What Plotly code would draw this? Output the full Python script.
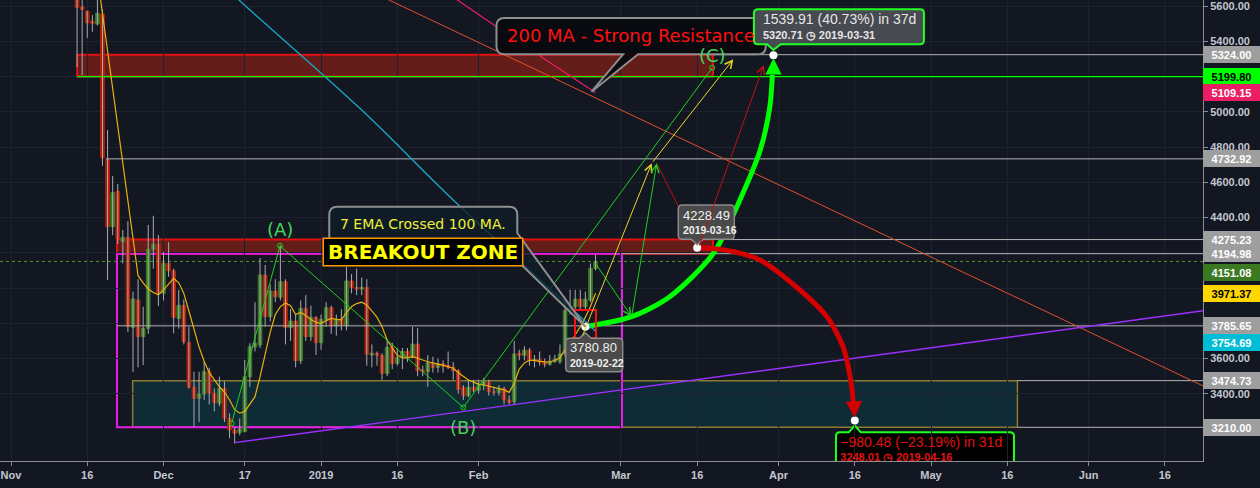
import plotly.graph_objects as go
import pandas as pd

# ---------------- candles (daily) ----------------
dates = pd.date_range("2018-11-14", "2019-02-24", freq="D").strftime("%Y-%m-%d").tolist()

opens = [6290, 5596, 5572, 5514, 5498, 5555, 4730, 4348, 4549, 4263, 4288, 3777, 3932, 3724, 3772, 4220, 4248,
         3970, 4140, 4098, 3828, 3902, 3692, 3437, 3375, 3399, 3525, 3403, 3346, 3431, 3261, 3195, 3180, 3185, 3497,
         3667, 3677, 4074, 3837, 3983, 3948, 4036, 3775, 3813, 3588, 3885, 3724, 3834,
         3690, 3823, 3889, 3786, 3823, 3786, 4040, 4004, 3994, 4004, 3620, 3630, 3617, 3516, 3664, 3573, 3607, 3640,
         3607, 3682, 3535, 3525, 3576, 3550, 3570, 3560, 3550, 3531, 3437, 3388, 3437,
         3420, 3450, 3469, 3412, 3408, 3431, 3365, 3355, 3630, 3618, 3648, 3588, 3596, 3580, 3567, 3585, 3582, 3626,
         3872, 3894, 3937, 3894, 3932, 4112]
highs = [6340, 5680, 5572, 5549, 5660, 5580, 4897, 4636, 4590, 4330, 4380, 3980, 4050, 3894, 4358, 4410, 4301,
         4206, 4260, 4110, 3990, 3935, 3780, 3525, 3525, 3582, 3548, 3431, 3497, 3470, 3289, 3210, 3260, 3592, 3687,
         3920, 4170, 4131, 4020, 4050, 4244, 4050, 3880, 3850, 3930, 3960, 3900, 3840,
         3850, 3920, 3900, 3850, 3880, 4120, 4080, 4110, 4060, 4050, 3680, 3640, 3630, 3710, 3690, 3660, 3660, 3660,
         3780, 3773, 3560, 3620, 3610, 3600, 3590, 3640, 3580, 3540, 3450, 3480, 3480,
         3480, 3490, 3480, 3440, 3450, 3440, 3390, 3700, 3650, 3670, 3660, 3620, 3640, 3600, 3620, 3620, 3680, 3930,
         3990, 3990, 3990, 3980, 4140, 4188]
lows = [5253, 5208, 5419, 5454, 5490, 4694, 4046, 4300, 4250, 4140, 3750, 3525, 3550, 3563, 3740, 4110, 3898,
        3930, 4064, 3743, 3770, 3680, 3430, 3213, 3240, 3365, 3340, 3300, 3330, 3240, 3148, 3119, 3165, 3185, 3440,
        3640, 3660, 3780, 3810, 3920, 3930, 3680, 3700, 3550, 3570, 3700, 3700, 3620,
        3650, 3780, 3740, 3730, 3760, 3760, 3970, 3960, 3960, 3560, 3550, 3560, 3480, 3500, 3540, 3560, 3540, 3580,
        3600, 3500, 3500, 3440, 3520, 3520, 3520, 3540, 3480, 3400, 3365, 3380, 3410,
        3400, 3420, 3390, 3390, 3390, 3340, 3340, 3340, 3590, 3590, 3560, 3550, 3560, 3550, 3560, 3575, 3570, 3610,
        3850, 3860, 3880, 3870, 3920, 4100]
closes = [5593, 5581, 5505, 5502, 5559, 4738, 4348, 4541, 4277, 4288, 3781, 3938, 3724, 3772, 4220, 4248, 3970,
          4140, 4098, 3834, 3902, 3696, 3437, 3375, 3399, 3525, 3403, 3350, 3431, 3261, 3195, 3176, 3200, 3497, 3667,
          3687, 4074, 3837, 3983, 3950, 4036, 3775, 3813, 3588, 3885, 3724, 3834, 3690,
          3823, 3889, 3786, 3823, 3790, 4040, 4004, 3994, 4004, 3624, 3630, 3617, 3516, 3664, 3573, 3607, 3640, 3607,
          3682, 3531, 3525, 3576, 3550, 3570, 3556, 3550, 3531, 3425, 3388, 3437, 3420,
          3450, 3469, 3412, 3408, 3431, 3365, 3350, 3626, 3618, 3648, 3588, 3596, 3580, 3567, 3585, 3596, 3626, 3872,
          3894, 3937, 3894, 3937, 4112, 4151]

# ---------------- indicators ----------------
ema7_dates = dates[4:]
ema7 = [5770, 5555, 5350, 5140, 4930, 4715, 4505, 4290, 4070, 4030, 3995, 3975, 3962,
        3990, 4025, 4055, 4030, 3970, 3870, 3760, 3665, 3585, 3520, 3480, 3440, 3410, 3365, 3310, 3290, 3300, 3340,
        3384, 3497, 3620, 3750, 3850, 3895, 3915, 3900, 3850, 3862, 3845, 3822, 3805,
        3800, 3815, 3828, 3822, 3819, 3860, 3895, 3912, 3920, 3904, 3870, 3835, 3780, 3705, 3660, 3620, 3605, 3602,
        3612, 3600, 3592, 3582, 3573, 3568, 3563, 3555, 3545, 3520, 3497, 3478, 3466,
        3455, 3450, 3444, 3438, 3430, 3422, 3408, 3460, 3540, 3575, 3590, 3590, 3584, 3581, 3579, 3590, 3605, 3650,
        3686, 3735, 3781, 3835, 3895, 3971]
ma100_dates = ["2018-12-11", "2018-12-16", "2019-01-09", "2019-01-27", "2019-02-20", "2019-02-24"]
ma100 = [5765, 5630, 5010, 4500, 3865, 3755]
ma200_dates = ["2019-01-25", "2019-02-08", "2019-02-24"]
ma200 = [5690, 5415, 5109]

# ---------------- drawings ----------------
trend_down_dates = ["2019-01-10", "2019-06-24"]
trend_down = [5694, 3438]
trend_up_dates = ["2018-12-15", "2019-06-24"]
trend_up = [3123, 3873]

wave_dates = ["2018-12-14 10:00", "2018-12-23 22:00", "2019-01-29 00:00", "2019-03-18 23:00"]
wave = [3233, 4240, 3323, 5250]
wave_labels = ["", "(A)", "(B)", "(C)"]
wave_label_dy = [0, 16, -20, 12]

green_zig_dates = ["2019-02-24 00:00", "2019-03-03 02:24", "2019-03-08 00:45"]
green_zig = [4140, 3837, 4708]
yellow_zig_dates = ["2019-02-21 08:00", "2019-03-07 01:12", "2019-03-23 02:24"]
yellow_zig = [3722, 4708, 5298]
red_zig_dates = ["2019-03-08 00:45", "2019-03-16 08:00", "2019-03-29 02:24"]
red_zig = [4708, 4233, 5265]

bull_dates = ["2019-02-22 00:00", "2019-03-03 02:24", "2019-03-10 14:24", "2019-03-19 04:48",
              "2019-03-24 09:36", "2019-03-28 09:36", "2019-03-30 07:12", "2019-03-30 19:00"]
bull = [3780.8, 3837.5, 3951, 4197, 4500, 4783, 5029, 5209]
bear_dates = ["2019-03-16 00:00", "2019-03-18 12:00", "2019-03-23 09:36", "2019-03-28 08:24",
              "2019-04-05 04:48", "2019-04-10 12:00", "2019-04-13 16:48", "2019-04-15 04:48", "2019-04-15 18:00"]
bear = [4228.49, 4226, 4205, 4159, 3989, 3838, 3667, 3478, 3342]

pt_dates = ["2019-02-22", "2019-03-16", "2019-03-31", "2019-04-16"]
pt_prices = [3780.80, 4228.49, 5320.71, 3248.01]

ray_levels = [5324.00, 4732.92, 4275.23, 4194.98, 3785.65, 3474.73, 3210.00]
ray_starts = ["2019-03-19 02:24", "2018-11-19 17:00", "2019-03-19 02:24", "2019-03-01 04:48",
              "2018-11-21 20:24", "2019-05-18 00:00", "2019-05-18 00:00"]
green_level = 5199.80
last_price = 4151.08

price_labels = [5324.00, 5199.80, 5109.15, 4732.92, 4275.23, 4194.98, 4151.08, 3971.37, 3785.65, 3754.69, 3474.73, 3210.00]
label_bg = ["#9e9e9e", "#00ff00", "#e91e63", "#9e9e9e", "#9e9e9e", "#9e9e9e", "#3b7a22", "#ffd600",
            "#9e9e9e", "#00bcd4", "#9e9e9e", "#9e9e9e"]
label_fg = ["#ffffff", "#000000", "#ffffff", "#ffffff", "#ffffff", "#ffffff", "#ffffff", "#000000",
            "#ffffff", "#ffffff", "#ffffff", "#ffffff"]
label_shift = [0, 0, 0, 0, 0, 0, -11, 0, 0, -11, 0, 0]

x_tickvals = ["2018-11-01", "2018-11-16", "2018-12-01", "2018-12-17", "2019-01-01", "2019-01-16", "2019-02-01",
              "2019-03-01", "2019-03-16", "2019-04-01", "2019-04-16", "2019-05-01", "2019-05-16", "2019-06-01",
              "2019-06-16"]
x_ticktext = ["Nov", "16", "Dec", "17", "2019", "16", "Feb", "Mar", "16", "Apr", "16", "May", "16", "Jun", "16"]
y_tickvals = [3400, 3600, 3800, 4000, 4200, 4400, 4600, 4800, 5000, 5200, 5400, 5600]
y_ticktext = ["3400.00", "3600.00", "", "", "", "4400.00", "4600.00", "4800.00", "5000.00", "", "5400.00", "5600.00"]

# ---------------- layout constants ----------------
W, H = 1260, 488
ML, MR, MT, MB = 0, 57, 0, 27
X0, X1 = pd.Timestamp("2018-10-29 20:04"), pd.Timestamp("2019-06-23 12:14")
Y0, Y1 = 3018.8, 5634.3
PW, PH = W - ML - MR, H - MT - MB
DAY_PX = PW / ((X1 - X0).total_seconds() / 86400)
PRICE_PX = PH / (Y1 - Y0)

BG = "#131722"
GRID = "#1e2230"
AXIS = "#8a8d96"
GREEN = "#3b7a22"
RED = "#b32109"
FONT = "Liberation Sans, Arial, sans-serif"
DJ = "DejaVu Sans, sans-serif"


def shift_date(d, px):
    return (pd.Timestamp(d) + pd.Timedelta(days=px / DAY_PX)).strftime("%Y-%m-%d %H:%M:%S")


def shift_price(p, px_up):
    return p + px_up / PRICE_PX


def rpath(l, r, b, t, rad, notch=None):
    """rounded rect in pixels relative to anchor (y up); optional notch (side, xl, xr, tipx, tipy)"""
    p = f"M{l + rad},{b} "
    if notch and notch[0] == "bottom":
        p += f"L{notch[1]},{b} L{notch[3]},{notch[4]} L{notch[2]},{b} "
    p += f"L{r - rad},{b} Q{r},{b} {r},{b + rad} L{r},{t - rad} Q{r},{t} {r - rad},{t} "
    if notch and notch[0] == "top":
        p += f"L{notch[2]},{t} L{notch[3]},{notch[4]} L{notch[1]},{t} "
    p += f"L{l + rad},{t} Q{l},{t} {l},{t - rad} L{l},{b + rad} Q{l},{b} {l + rad},{b} Z"
    return p


fig = go.Figure()

# ---------------- zones (below) ----------------
zone_fill = "rgba(170,35,20,0.55)"
fig.add_shape(type="rect", xref="x", yref="y", x0="2018-11-14", x1="2019-03-19 02:24", y0=5199.8, y1=5324.0,
              fillcolor=zone_fill, line=dict(color="#e01010", width=2), layer="below")
fig.add_shape(type="rect", xref="x", yref="y", x0="2018-11-21 20:24", x1="2019-03-19 02:24", y0=4194.98, y1=4275.23,
              fillcolor=zone_fill, line=dict(color="#e01010", width=2), layer="below")
fig.add_shape(type="rect", xref="x", yref="y", x0="2018-11-24 22:30", x1="2019-05-18", y0=3210.0, y1=3474.73,
              fillcolor="rgba(0,100,112,0.26)", line=dict(color="#8c7a30", width=1.5), layer="below")
# bottom measurement box (clipped by plot area)
a_d, a_p = pt_dates[3], pt_prices[3]
fig.add_shape(type="path", xref="x", yref="y", xsizemode="pixel", ysizemode="pixel", xanchor=a_d, yanchor=a_p,
              path=rpath(-18.8, 159.2, -70, -11.7, 4, ("top", -6, 6, 0, -5)),
              fillcolor="#000000", line=dict(color="#1dff1d", width=2), layer="below")

# ---------------- horizontal rays ----------------
for lvl, st in zip(ray_levels, ray_starts):
    fig.add_trace(go.Scatter(x=[st, "2019-07-05"], y=[lvl, lvl], mode="lines",
                             line=dict(color="#b4b4b4", width=1), hoverinfo="skip"))
fig.add_trace(go.Scatter(x=["2018-11-14", "2019-07-05"], y=[green_level, green_level], mode="lines",
                         line=dict(color="#00ff00", width=1.2), hoverinfo="skip"))
fig.add_trace(go.Scatter(x=[X0, X1], y=[last_price, last_price], mode="lines",
                         line=dict(color="#4c9a2a", width=1, dash="dot"), hoverinfo="skip"))

# range box (magenta)
fig.add_shape(type="rect", xref="x", yref="y", x0="2018-11-21 20:24", x1="2019-03-01 04:48", y0=3210.0, y1=4194.98,
              fillcolor="rgba(0,0,0,0)", line=dict(color="#e81ee8", width=2), layer="below")

# ---------------- candles ----------------
wx, wy = [], []
for d, h, l in zip(dates, highs, lows):
    wx += [d, d, None]
    wy += [l, h, None]
fig.add_trace(go.Scatter(x=wx, y=wy, mode="lines", line=dict(color="#a9abb0", width=1), hoverinfo="skip"))
body_base = [min(o, c) for o, c in zip(opens, closes)]
body_h = [abs(c - o) for o, c in zip(opens, closes)]
body_col = [GREEN if c >= o else RED for o, c in zip(opens, closes)]
fig.add_trace(go.Bar(x=dates, y=body_h, base=body_base, width=0.72 * 86400000,
                     marker=dict(color=body_col, line=dict(color=body_col, width=1)), hoverinfo="skip"))

# ---------------- indicators ----------------
fig.add_trace(go.Scatter(x=ema7_dates, y=ema7, mode="lines", line=dict(color="#e8b10c", width=1.2), hoverinfo="skip"))
fig.add_trace(go.Scatter(x=ma200_dates, y=ma200, mode="lines", line=dict(color="#e91e63", width=1.2),
                         line_shape="spline", hoverinfo="skip"))

# ---------------- trend lines ----------------
fig.add_trace(go.Scatter(x=trend_down_dates, y=trend_down, mode="lines", line=dict(color="#e0502a", width=1),
                         hoverinfo="skip"))
fig.add_trace(go.Scatter(x=trend_up_dates, y=trend_up, mode="lines", line=dict(color="#9b30ff", width=1.4),
                         hoverinfo="skip"))
fig.add_trace(go.Scatter(x=wave_dates, y=wave, mode="lines+markers", line=dict(color="#1fd01f", width=1),
                         marker=dict(symbol="circle-open", size=5, color="#1fd01f"), hoverinfo="skip"))
fig.add_shape(type="rect", xref="x", yref="y", x0="2019-02-19 23:00", x1="2019-02-24 02:24", y0=3715, y1=3876,
              fillcolor="rgba(0,0,0,0)", line=dict(color="#ff1010", width=2), layer="above")

# zigzag lines (segments); arrows added as annotations
fig.add_trace(go.Scatter(x=red_zig_dates[:2], y=red_zig[:2], mode="lines", line=dict(color="#c01010", width=1),
                         hoverinfo="skip"))


def thin_arrow(d0, p0, d1, p1, color):
    fig.add_annotation(x=d1, y=p1, ax=d0, ay=p0, xref="x", yref="y", axref="x", ayref="y", text="",
                       showarrow=True, arrowhead=5, arrowsize=1.5, arrowwidth=1, arrowcolor=color, standoff=0)


for i in range(2):
    thin_arrow(green_zig_dates[i], green_zig[i], green_zig_dates[i + 1], green_zig[i + 1], "#1fd01f")
    thin_arrow(yellow_zig_dates[i], yellow_zig[i], yellow_zig_dates[i + 1], yellow_zig[i + 1], "#e8d62a")
thin_arrow(red_zig_dates[1], red_zig[1], red_zig_dates[2], red_zig[2], "#c01010")

# ---------------- projection curves ----------------
fig.add_trace(go.Scatter(x=bull_dates, y=bull, mode="lines", line=dict(color="#00ff00", width=5, shape="spline",
                                                                      smoothing=0.8), hoverinfo="skip"))
fig.add_trace(go.Scatter(x=bear_dates, y=bear, mode="lines", line=dict(color="#d40000", width=5, shape="spline",
                                                                      smoothing=0.8), hoverinfo="skip"))
fig.add_annotation(x=pt_dates[2], y=pt_prices[2], xref="x", yref="y", ax=0, ay=20, text="", showarrow=True,
                   arrowhead=2, arrowsize=0.65, arrowwidth=5, arrowcolor="#00ff00", standoff=3)
fig.add_annotation(x=pt_dates[3], y=pt_prices[3], xref="x", yref="y", ax=-1, ay=-20, text="", showarrow=True,
                   arrowhead=2, arrowsize=0.65, arrowwidth=5, arrowcolor="#d40000", standoff=3)

# ---------------- callout tails / boxes (above) ----------------
# 200 MA callout anchored at its pointer tip on the 200 MA
ma_tip_d, ma_tip_p = "2019-02-23 04:48", 5114
p200 = (f"M{-95 + 8},37.4 L31.6,37.4 L0,0 L46.6,37.4 L{174.3 - 8},37.4 Q174.3,37.4 174.3,{37.4 + 8} "
        f"L174.3,{73.7 - 8} Q174.3,73.7 {174.3 - 8},73.7 L{-95 + 8},73.7 Q-95,73.7 -95,{73.7 - 8} "
        f"L-95,{37.4 + 8} Q-95,37.4 {-95 + 8},37.4 Z")
fig.add_shape(type="path", xref="x", yref="y", xsizemode="pixel", ysizemode="pixel", xanchor=ma_tip_d,
              yanchor=ma_tip_p, path=p200, fillcolor="rgba(9,10,14,0.94)", line=dict(color="#8e8e8e", width=2),
              layer="above")
# 7 EMA callout anchored at the 3780.80 point
e_d, e_p = pt_dates[0], pt_prices[0]
l, r, b, t, rad = -256.1, -68.1, 81.7, 120.0, 8
p7 = (f"M{l + rad},{b} L-84.4,{b} L0,0 L{r},93.7 L{r},{t - rad} Q{r},{t} {r - rad},{t} "
      f"L{l + rad},{t} Q{l},{t} {l},{t - rad} L{l},{b + rad} Q{l},{b} {l + rad},{b} Z")
fig.add_shape(type="path", xref="x", yref="y", xsizemode="pixel", ysizemode="pixel", xanchor=e_d, yanchor=e_p,
              path=p7, fillcolor="rgba(14,30,38,0.78)", line=dict(color="#8e8e8e", width=2), layer="above")
# BREAKOUT ZONE box
fig.add_shape(type="rect", xref="x", yref="y", xsizemode="pixel", ysizemode="pixel", xanchor=e_d, yanchor=e_p,
              x0=-262.1, x1=-62.7, y0=61.0, y1=88.4, fillcolor="#000000", line=dict(color="#ff9800", width=1.5),
              layer="above")
# measurement boxes
fig.add_shape(type="path", xref="x", yref="y", xsizemode="pixel", ysizemode="pixel", xanchor=pt_dates[2],
              yanchor=pt_prices[2], path=rpath(-19.5, 150.5, 11, 46, 4, ("bottom", -6.2, 7.2, 0, 5.3)),
              fillcolor="#474a50", line=dict(color="#22ff22", width=2), layer="above")
fig.add_shape(type="path", xref="x", yref="y", xsizemode="pixel", ysizemode="pixel", xanchor=pt_dates[1],
              yanchor=pt_prices[1], path=rpath(-18.9, 37.1, 8.5, 42.8, 4, ("bottom", -6, 6, 0, 3)),
              fillcolor="#4a4a4a", line=dict(color="#8c8c8c", width=1.5), layer="above")
fig.add_shape(type="path", xref="x", yref="y", xsizemode="pixel", ysizemode="pixel", xanchor=pt_dates[0],
              yanchor=pt_prices[0], path=rpath(-19.7, 37.3, -45, -11.6, 4, ("top", -6, 6, 0, -6)),
              fillcolor="#4a4a4a", line=dict(color="#8c8c8c", width=1.5), layer="above")

# 100 MA drawn above the (semi transparent) 7 EMA callout, like the reference
fig.add_trace(go.Scatter(x=ma100_dates, y=ma100, mode="lines", line=dict(color="#17a9c9", width=1.3),
                         line_shape="spline", hoverinfo="skip"))

# white measurement dots
fig.add_trace(go.Scatter(x=pt_dates, y=pt_prices, mode="markers", marker=dict(color="#ffffff", size=8),
                         hoverinfo="skip"))

# bottom box text (clipped by the plot area like the reference)
fig.add_trace(go.Scatter(x=[shift_date(a_d, -14.5)], y=[shift_price(a_p, -22.7)], mode="text",
                         text=["\u2212980.48 (\u221223.19%) in 31d"], textposition="middle right",
                         textfont=dict(color="#e31010", size=14, family=FONT), hoverinfo="skip", cliponaxis=True))
fig.add_trace(go.Scatter(x=[shift_date(a_d, -14.5)], y=[shift_price(a_p, -37.4)], mode="text",
                         text=["<b>3248.01 \u25f7 2019-04-16</b>"], textposition="middle right",
                         textfont=dict(color="#e31010", size=11, family=FONT), hoverinfo="skip", cliponaxis=True))


# ---------------- texts ----------------
def txt(d, p, dx, dy, text, size, color, family=FONT, xanchor="left", weight="normal", shadow=None):
    f = dict(size=size, color=color, family=family, weight=weight)
    if shadow:
        f["shadow"] = shadow
    fig.add_annotation(x=d, y=p, xref="x", yref="y", xshift=dx, yshift=dy, text=text, showarrow=False,
                       xanchor=xanchor, yanchor="middle", font=f)


txt(pt_dates[2], pt_prices[2], -12, 35.8, "1539.91 (40.73%) in 37d", 14, "#e6e6e6")
txt(pt_dates[2], pt_prices[2], -12, 20.3, "5320.71 \u25f7 2019-03-31", 11, "#e6e6e6", weight="bold")
txt(pt_dates[1], pt_prices[1], -16.5, 31.8, "4228.49", 13, "#f0f0f0")
txt(pt_dates[1], pt_prices[1], -16.5, 17.8, "2019-03-16", 10.5, "#f0f0f0", weight="bold")
txt(pt_dates[0], pt_prices[0], -17.4, -21.3, "3780.80", 13, "#f0f0f0")
txt(pt_dates[0], pt_prices[0], -17.4, -36.3, "2019-02-22", 10.5, "#f0f0f0", weight="bold")
txt(ma_tip_d, ma_tip_p, 39.8, 56.2, "200 MA - Strong Resistance", 18, "#ff1010", family=DJ, xanchor="center")
txt(e_d, e_p, -162.1, 102.7, "7 EMA Crossed 100 MA.", 14, "#f0f03c", family=DJ, xanchor="center")
txt(e_d, e_p, -162.4, 74.7, "BREAKOUT ZONE", 20, "#ffff00", family=DJ, xanchor="center", weight="bold",
    shadow="2px 2px 1px #000000")
for d, p, lab, dy in zip(wave_dates, wave, wave_labels, wave_label_dy):
    if lab:
        txt(d, p, 0, dy, lab, 18, "#46d35a", family=DJ, xanchor="center")

# ---------------- right-axis price labels ----------------
for p, bg, fg, sh in zip(price_labels, label_bg, label_fg, label_shift):
    fig.add_annotation(x=1, xref="paper", y=p, yref="y", xanchor="left", yanchor="middle", yshift=sh,
                       text=f"{p:.2f}", showarrow=False, bgcolor=bg, width=54, height=14, borderpad=1.5,
                       borderwidth=0, align="center",
                       font=dict(color=fg, size=11, family=FONT, weight="bold"))

fig.update_layout(
    width=W, height=H, margin=dict(l=ML, r=MR, t=MT, b=MB),
    paper_bgcolor=BG, plot_bgcolor=BG, showlegend=False, barmode="overlay", hovermode=False,
    xaxis=dict(type="date", range=[X0, X1], tickvals=x_tickvals, ticktext=x_ticktext, showgrid=True,
               gridcolor=GRID, gridwidth=1, showline=True, linecolor=AXIS, linewidth=1, ticks="outside",
               ticklen=4, tickcolor=AXIS, zeroline=False, fixedrange=True, ticklabeloverflow="allow",
               tickfont=dict(color="#c3c6ce", size=11, family=FONT, weight="bold")),
    yaxis=dict(side="right", range=[Y0, Y1], tickvals=y_tickvals, ticktext=y_ticktext, showgrid=True,
               gridcolor=GRID, gridwidth=1, showline=True, linecolor=AXIS, linewidth=1, ticks="outside",
               ticklen=4, tickcolor=AXIS, zeroline=False, fixedrange=True, ticklabeloverflow="allow",
               tickfont=dict(color="#c3c6ce", size=11, family=FONT, weight="bold")),
)

fig.write_html("out.html", config={"displayModeBar": False},
               post_script="document.body.style.margin='0';document.body.style.padding='0';"
                           "document.body.style.overflow='hidden';")
